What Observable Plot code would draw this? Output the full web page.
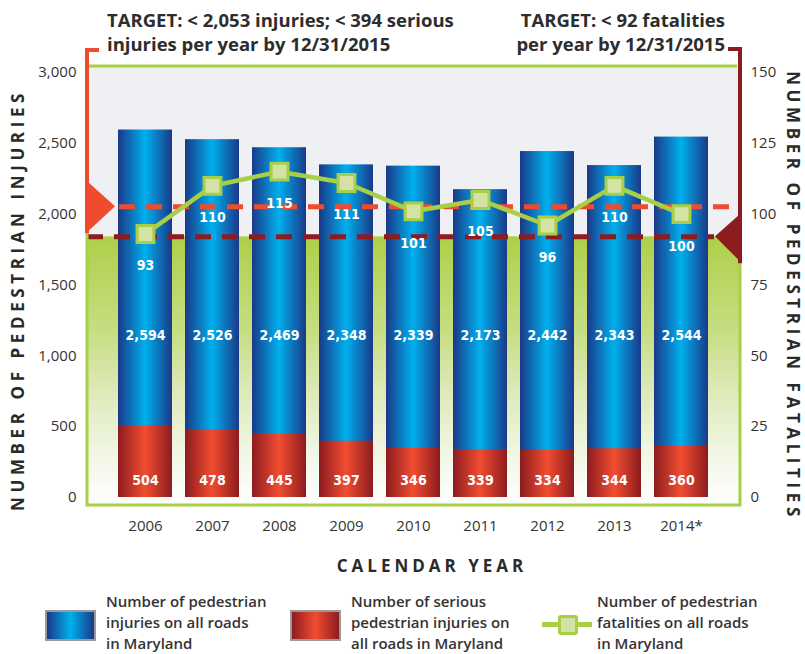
<!DOCTYPE html>
<html><head><meta charset="utf-8">
<script src="https://cdn.jsdelivr.net/npm/d3@7"></script>
<script src="https://cdn.jsdelivr.net/npm/@observablehq/plot@0.6"></script>
<style>
body{margin:0;background:#fff;font-family:"Open Sans",sans-serif;}
#wrap{position:relative;width:805px;height:654px;overflow:hidden;}
#wrap svg{position:absolute;left:0;top:0;}
.ttl{position:absolute;font-weight:700;color:#2d2d2d;font-size:18.5px;line-height:24px;white-space:nowrap;}
.leg{position:absolute;font-weight:600;color:#333;font-size:15px;line-height:21px;white-space:nowrap;}
.sw{position:absolute;width:47px;height:27px;border:2.5px solid #9a9a9a;}
</style></head><body>
<div id="wrap"></div>
<script>
const years = ["2006","2007","2008","2009","2010","2011","2012","2013","2014*"];
const injuries = [2594,2526,2469,2348,2339,2173,2442,2343,2544];
const serious = [504,478,445,397,346,339,334,344,360];
const fatalities = [93,110,115,111,101,105,96,110,100];
const injuryTicks = [0,500,1000,1500,2000,2500,3000];
const fatalityTicks = [0,25,50,75,100,125,150];
const injuryTarget = 2053;
const fatalityTarget = 92;
const ratio = 20; // right axis 150 <-> left axis 3000

const rows = years.map((y,i)=>({year:y, injuries:injuries[i], serious:serious[i], fatalities:fatalities[i], fy:fatalities[i]*ratio}));
const labelFont = "'DejaVu Sans Condensed','Open Sans',sans-serif";

const plot = Plot.plot({
  width:805, height:654, marginTop:72, marginBottom:157, marginLeft:87, marginRight:65,
  style:{fontFamily:"'Open Sans',sans-serif", background:"transparent", color:"#333", overflow:"visible"},
  x:{domain:years, paddingInner:0.188, paddingOuter:0.413, label:null},
  y:{domain:[0,3000], label:null},
  marks:[
    Plot.barY(rows,{x:"year", y:"injuries", fill:"url(#gBlue)"}),
    Plot.barY(rows,{x:"year", y:"serious", fill:"url(#gRed)"}),
    Plot.ruleY([injuryTarget],{stroke:"#ef4b2f", strokeWidth:5, strokeDasharray:"16,11", insetLeft:32}),
    Plot.ruleY([fatalityTarget*ratio],{stroke:"#8c1c1f", strokeWidth:5, strokeDasharray:"16,11", insetRight:26}),
    Plot.line(rows,{x:"year", y:"fy", stroke:"#a8cf45", strokeWidth:4.5}),
    Plot.dot(rows,{x:"year", y:"fy", symbol:"square", r:9.5, fill:"#d4e3a4", stroke:"#a8cf45", strokeWidth:3}),
    Plot.text(rows,{x:"year", y:"fy", text:d=>String(d.fatalities), dy:32, fill:"white", fontSize:14, fontWeight:"bold", fontFamily:labelFont}),
    Plot.text(rows,{x:"year", text:d=>d3.format(",")(d.injuries), frameAnchor:"bottom", dy:-158, fill:"white", fontSize:14, fontWeight:"bold", fontFamily:labelFont}),
    Plot.text(rows,{x:"year", text:d=>String(d.serious), frameAnchor:"bottom", dy:-13, fill:"white", fontSize:14, fontWeight:"bold", fontFamily:labelFont}),
    Plot.axisY(injuryTicks,{anchor:"left", tickSize:0, tickPadding:11, tickFormat:d3.format(","), fontSize:15, label:null}),
    Plot.axisY(fatalityTicks.map(t=>t*ratio),{anchor:"right", tickSize:0, tickPadding:10, tickFormat:d=>String(d/ratio), fontSize:15, label:null}),
    Plot.axisX({anchor:"bottom", tickSize:0, tickPadding:23, fontSize:15, label:null})
  ]
});

const svg = d3.select(plot);
const ys = plot.scale("y");
const Y = v => ys.apply(v);
const L = 87, R = 740, T = 66, B = Y(0) + 8;

const defs = svg.insert("defs", ":first-child");
function hgrad(id, edge, mid){
  const g = defs.append("linearGradient").attr("id", id).attr("x1",0).attr("x2",1).attr("y1",0).attr("y2",0);
  g.append("stop").attr("offset",0).attr("stop-color",edge);
  g.append("stop").attr("offset",0.5).attr("stop-color",mid);
  g.append("stop").attr("offset",1).attr("stop-color",edge);
}
hgrad("gBlue","#1a3988","#00b0ee");
hgrad("gRed","#8d1b1f","#f14d30");
const gg = defs.append("linearGradient").attr("id","gGreen").attr("x1",0).attr("x2",0).attr("y1",0).attr("y2",1);
[[0,"#aecf48"],[0.35,"#c6de82"],[0.55,"#dbe8b2"],[0.8,"#f1f6e3"],[1,"#ffffff"]].forEach(([o,c])=>gg.append("stop").attr("offset",o).attr("stop-color",c));

// background layer behind marks
const bg = svg.insert("g", "g[aria-label]");
const fy = Y(fatalityTarget*ratio), iy = Y(injuryTarget);
bg.append("rect").attr("x",L).attr("y",T).attr("width",R-L).attr("height",B-T).attr("fill","#eef0f3");
bg.append("rect").attr("x",L).attr("y",fy).attr("width",R-L).attr("height",B-fy).attr("fill","url(#gGreen)");

// frame & brackets on top
const fg = svg.append("g");
const green = "#a8cf45", red = "#ef4b2f", dred = "#8c1c1f";
fg.append("path").attr("d",`M${L},${T}H${R-3}`).attr("stroke",green).attr("stroke-width",3).attr("fill","none");
fg.append("path").attr("d",`M${L},${iy+27}V${B}H${R}V${fy+27}`).attr("stroke",green).attr("stroke-width",3).attr("fill","none");
fg.append("path").attr("d",`M${L+12},${T-16}H${L}V${iy+27}`).attr("stroke",red).attr("stroke-width",4).attr("fill","none");
fg.append("path").attr("d",`M${L-1},${iy-26}L${L+28},${iy}L${L-1},${iy+27}Z`).attr("fill",red);
fg.append("path").attr("d",`M${R-12},${T-17}H${R}V${fy+27}`).attr("stroke",dred).attr("stroke-width",4).attr("fill","none");
fg.append("path").attr("d",`M${R+2},${fy-24}L${R-25},${fy}L${R+2},${fy+27}Z`).attr("fill",dred);

// axis titles
fg.append("text").attr("transform","translate(17,300) rotate(-90)").attr("text-anchor","middle").attr("dominant-baseline","central")
  .attr("font-size",17).attr("font-weight",700).attr("letter-spacing","4.6px").attr("fill","#2a2a2a").text("NUMBER OF PEDESTRIAN INJURIES");
fg.append("text").attr("transform","translate(793,296) rotate(90)").attr("text-anchor","middle").attr("dominant-baseline","central")
  .attr("font-size",17).attr("font-weight",700).attr("letter-spacing","4.6px").attr("fill","#2a2a2a").text("NUMBER OF PEDESTRIAN FATALITIES");
fg.append("text").attr("x",432).attr("y",565).attr("text-anchor","middle").attr("dominant-baseline","central")
  .attr("font-size",17).attr("font-weight",700).attr("letter-spacing","4px").attr("fill","#2a2a2a").text("CALENDAR YEAR");

const wrap = document.getElementById("wrap");
wrap.appendChild(plot);
wrap.insertAdjacentHTML("beforeend", `
<div class="ttl" style="left:107px;top:8px;">TARGET: &lt; 2,053 injuries; &lt; 394 serious<br>injuries per year by 12/31/2015</div>
<div class="ttl" style="right:80px;top:8px;text-align:right;">TARGET: &lt; 92 fatalities<br>per year by 12/31/2015</div>
<div class="sw" style="left:45px;top:610px;background:linear-gradient(90deg,#1a3988,#00b0ee 50%,#1a3988);"></div>
<div class="leg" style="left:106px;top:591px;">Number of pedestrian<br>injuries on all roads<br>in Maryland</div>
<div class="sw" style="left:290px;top:610px;background:linear-gradient(90deg,#8d1b1f,#f14d30 50%,#8d1b1f);"></div>
<div class="leg" style="left:351px;top:591px;">Number of serious<br>pedestrian injuries on<br>all roads in Maryland</div>
<div style="position:absolute;left:542px;top:622px;width:50px;height:5px;background:#a8cf45;"></div>
<div style="position:absolute;left:558px;top:615px;width:14px;height:14px;background:#d4e3a4;border:3px solid #a8cf45;border-radius:3px;"></div>
<div class="leg" style="left:597px;top:591px;">Number of pedestrian<br>fatalities on all roads<br>in Maryland</div>
`);
</script>
</body></html>
